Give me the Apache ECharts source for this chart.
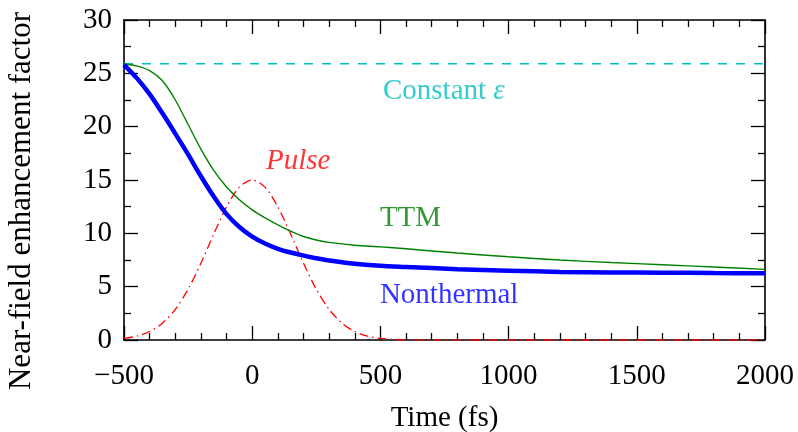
<!DOCTYPE html>
<html><head><meta charset="utf-8">
<script src="https://cdn.jsdelivr.net/npm/echarts@6/dist/echarts.min.js"></script>
<style>html,body{margin:0;padding:0;background:#fff}#c{width:798px;height:432px}</style>
</head><body><div id="c"></div>
<script>
// Time samples (fs)
const timeCurves = [-500,-450,-400,-350,-300,-250,-200,-150,-100,-50,0,50,100,150,200,250,300,400,500,600,800,1000,1200,1400,1600,1800,2000];
const nonthermal = [25.8,24.55,23.05,21.25,19.35,17.4,15.35,13.45,11.8,10.6,9.7,9.05,8.55,8.2,7.92,7.66,7.45,7.14,6.96,6.85,6.64,6.5,6.38,6.33,6.31,6.28,6.25];
const ttm        = [25.85,25.7,25.25,24.3,22.5,20.2,17.9,15.9,14.35,13.15,12.2,11.45,10.8,10.2,9.7,9.38,9.15,8.88,8.73,8.55,8.15,7.8,7.5,7.26,7.06,6.84,6.62];
const timeConst = [-500, 2000];
const constantEps = [25.9, 25.9];
const timePulse = [-500,-450,-400,-350,-300,-250,-200,-150,-100,-50,0,50,100,150,200,250,300,350,400,450,500,600,1000,1500,2000];
const pulse = [0.15,0.36,0.8,1.58,2.87,4.76,7.2,9.93,12.48,14.33,15,14.33,12.48,9.93,7.2,4.76,2.87,1.58,0.8,0.36,0.15,0.02,0,0,0];
const xTicks = {min:-500, max:2000, step:500};
const yTicks = {min:0, max:30, step:5};
const labelNames = ['Constant ε','Pulse','TTM','Nonthermal'];
const labelX = [510, 54, 498, 498];
const labelY = [23.3, 16.7, 11.4, 4.2];

const FONT = '"Liberation Serif", "Times New Roman", serif';
const FS = 29;
const zip = (xs, ys) => xs.map((x,i)=>[x, ys[i]]);

const chart = echarts.init(document.getElementById('c'));
const axisCommon = {
  axisLine:{show:true, onZero:false, lineStyle:{color:'#000', width:1.6}},
  axisTick:{show:true, inside:true, length:14, lineStyle:{color:'#000', width:1.3}},
  splitLine:{show:false}
};
const mkX = (pos, showLabel) => Object.assign({
  type:'value', position:pos, min:xTicks.min, max:xTicks.max, interval:xTicks.step,
  minorTick:{show:true, splitNumber:5, length:7, lineStyle:{color:'#000', width:1.3}},
  axisLabel:{show:showLabel, fontFamily:FONT, fontSize:FS, color:'#000', margin:22,
    showMinLabel:true, showMaxLabel:true,
    formatter:v=>String(v).replace('-', '\u2212')},
  name: showLabel ? 'Time (fs)' : '', nameLocation:'middle', nameGap:64,
  nameTextStyle:{fontFamily:FONT, fontSize:FS, color:'#000'}
}, axisCommon);
const mkY = (pos, showLabel) => Object.assign({
  type:'value', position:pos, min:yTicks.min, max:yTicks.max, interval:yTicks.step,
  minorTick:{show:true, splitNumber:2, length:7, lineStyle:{color:'#000', width:1.3}},
  axisLabel:{show:showLabel, fontFamily:FONT, fontSize:FS, color:'#000', margin:12},
  name: showLabel ? 'Near-field enhancement factor' : '', nameLocation:'middle', nameGap:87,
  nameTextStyle:{fontFamily:FONT, fontSize:31, color:'#000', padding:[0,42,0,0]}
}, axisCommon);

const labelColors = ['#00bfbf','#ff0000','#008000','#0000ff'];
const labelData = labelNames.map((n,i)=>{
  const item = {value:[labelX[i], labelY[i]], name:n};
  let fmt;
  if (n === 'Constant ε') fmt = '{a|Constant }{b|ε}';
  else if (n === 'Pulse') fmt = '{b|Pulse}';
  else fmt = '{a|' + n + '}';
  item.label = {show:true, position:'right', distance:0, formatter:fmt,
    rich:{a:{fontFamily:FONT, fontSize:FS, color:labelColors[i]},
          b:{fontFamily:FONT, fontSize:FS, fontStyle:'italic', color:labelColors[i]}}};
  return item;
});

chart.setOption({
  animation:false,
  backgroundColor:'#fff',
  grid:{left:124, right:33, top:20, bottom:92, containLabel:false, outerBoundsMode:'none'},
  xAxis:[mkX('bottom', true), mkX('top', false)],
  yAxis:[mkY('left', true), mkY('right', false)],
  series:[
    {type:'line', name:'Constant', data:zip(timeConst, constantEps), showSymbol:false,
     lineStyle:{color:'#00bfbf', width:1.5, type:[9,9]}, z:2},
    {type:'line', name:'Pulse', data:zip(timePulse, pulse), showSymbol:false, smooth:0.3,
     lineStyle:{color:'#ff0000', width:1.3, type:[9,4,1.5,4]}, z:3},
    {type:'line', name:'TTM', data:zip(timeCurves, ttm), showSymbol:false, smooth:0.3,
     lineStyle:{color:'#008000', width:1.4}, z:4},
    {type:'line', name:'Nonthermal', data:zip(timeCurves, nonthermal), showSymbol:false, smooth:0.3,
     lineStyle:{color:'#0000ff', width:4.5}, z:5},
    {type:'scatter', data:labelData, symbolSize:0, silent:true, z:6}
  ]
});
</script></body></html>
